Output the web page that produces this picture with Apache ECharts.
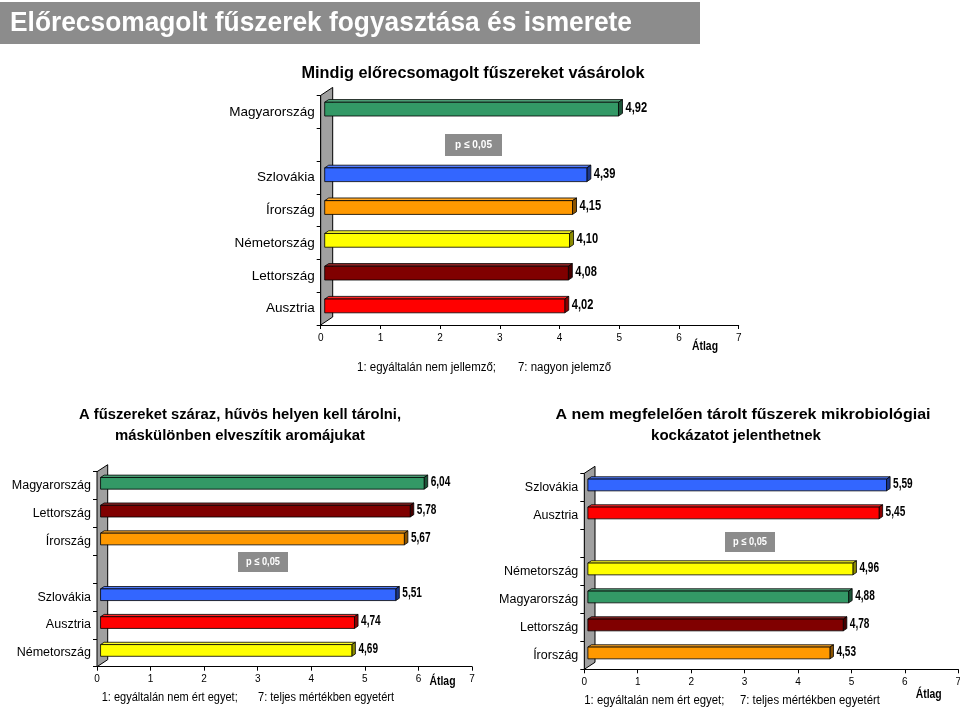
<!DOCTYPE html>
<html><head><meta charset="utf-8">
<script src="https://cdn.jsdelivr.net/npm/echarts@6/dist/echarts.min.js"></script>
<style>html,body{margin:0;padding:0;background:#fff}#c{width:960px;height:709px}</style>
</head><body><div id="c"></div>
<script>
// ---------- data ----------
const mainTitle = 'Előrecsomagolt fűszerek fogyasztása és ismerete';
const title1 = 'Mindig előrecsomagolt fűszereket vásárolok';
const cats1 = ['Magyarország', '', 'Szlovákia', 'Írország', 'Németország', 'Lettország', 'Ausztria'];
const vals1 = [4.92, null, 4.39, 4.15, 4.10, 4.08, 4.02];
const title2 = ['A fűszereket száraz, hűvös helyen kell tárolni,', 'máskülönben elveszítik aromájukat'];
const cats2 = ['Magyarország', 'Lettország', 'Írország', '', 'Szlovákia', 'Ausztria', 'Németország'];
const vals2 = [6.04, 5.78, 5.67, null, 5.51, 4.74, 4.69];
const title3 = ['A nem megfelelően tárolt fűszerek mikrobiológiai', 'kockázatot jelenthetnek'];
const cats3 = ['Szlovákia', 'Ausztria', '', 'Németország', 'Magyarország', 'Lettország', 'Írország'];
const vals3 = [5.59, 5.45, null, 4.96, 4.88, 4.78, 4.53];
const axisMin = 0, axisMax = 7, axisStep = 1;
const axisName = 'Átlag';
const pLabel = 'p ≤ 0,05';
const note1 = ['1: egyáltalán nem jellemző;', '7: nagyon jelemző'];
const note2 = ['1: egyáltalán nem ért egyet;', '7: teljes mértékben egyetért'];
const note3 = ['1: egyáltalán nem ért egyet;', '7: teljes mértékben egyetért'];

// ---------- styles ----------
const FAM = "'Liberation Sans', Arial, Helvetica, sans-serif";
const countryColor = {
  'Magyarország': '#339966', 'Szlovákia': '#3366FF', 'Írország': '#FF9900',
  'Németország': '#FFFF00', 'Lettország': '#800000', 'Ausztria': '#FF0000'
};
function shade(hex, f) {
  const n = parseInt(hex.slice(1), 16);
  let r = (n >> 16) & 255, g = (n >> 8) & 255, b = n & 255;
  if (f <= 1) { r *= f; g *= f; b *= f; }
  else { const t = f - 1; r += (255 - r) * t; g += (255 - g) * t; b += (255 - b) * t; }
  return 'rgb(' + [r, g, b].map(v => Math.round(v)).join(',') + ')';
}
const mctx = document.createElement('canvas').getContext('2d');
function fitScale(text, font, w) { mctx.font = font; return w / mctx.measureText(text).width; }
function gText(text, x, y, font, width, align, fill) {
  return {
    type: 'text', x: x, y: y, silent: true, z: 10,
    scaleX: width ? fitScale(text, font, width) : 1,
    style: { text: text, x: 0, y: 0, font: font, fill: fill || '#000',
      textAlign: align || 'left', textVerticalAlign: 'middle', align: align || 'left', verticalAlign: 'middle' }
  };
}
function fmt(v) { return v.toFixed(2).replace('.', ','); }

const panels = [
  { cats: cats1, vals: vals1, grid: { left: 320.7, top: 95.4, width: 418, height: 229.6 },
    wdx: 12, wdy: -8, catFont: 13.5, valFont: 'bold 15px ' + FAM, valScale: 0.74 },
  { cats: cats2, vals: vals2, grid: { left: 97, top: 471.7, width: 375, height: 195 },
    wdx: 10.7, wdy: -7, catFont: 12.5, valFont: 'bold 14px ' + FAM, valScale: 0.72 },
  { cats: cats3, vals: vals3, grid: { left: 584.3, top: 473.3, width: 374, height: 196 },
    wdx: 10.7, wdy: -7, catFont: 12.5, valFont: 'bold 14px ' + FAM, valScale: 0.72 }
];

const grids = [], xAxes = [], yAxes = [], series = [];
panels.forEach((p, i) => {
  grids.push(Object.assign({ containLabel: false, outerBoundsMode: 'none' }, p.grid));
  xAxes.push({
    gridIndex: i, type: 'value', min: axisMin, max: axisMax, interval: axisStep,
    axisLine: { show: true, lineStyle: { color: '#000', width: 1 } },
    axisTick: { show: true, length: 4, lineStyle: { color: '#000' } },
    axisLabel: { fontSize: 10, color: '#000', margin: 8, fontFamily: FAM },
    splitLine: { show: false }
  });
  yAxes.push({
    gridIndex: i, type: 'category', data: p.cats, inverse: true,
    axisLine: { show: true, lineStyle: { color: '#000', width: 1 } },
    axisTick: { show: true, length: 4, lineStyle: { color: '#000' } },
    axisLabel: { fontSize: p.catFont, color: '#000', margin: 6, fontFamily: FAM, interval: 0 },
    splitLine: { show: false }
  });
  // back wall
  series.push({
    type: 'custom', xAxisIndex: i, yAxisIndex: i, z: 1, silent: true,
    data: [[axisMin, 0]],
    renderItem: (params, api) => {
      const cs = params.coordSys;
      const x = cs.x, t = cs.y, b = cs.y + cs.height;
      return {
        type: 'polygon',
        shape: { points: [[x, t], [x + p.wdx, t + p.wdy], [x + p.wdx, b + p.wdy], [x, b]] },
        style: { fill: '#a0a0a0', stroke: '#000', lineWidth: 1 }
      };
    }
  });
  // 3D bars
  series.push({
    type: 'custom', xAxisIndex: i, yAxisIndex: i, z: 3, silent: true,
    encode: { x: 0, y: 1 },
    data: p.vals.map((v, k) => v == null ? null : ({ value: [v, k], itemStyle: { color: countryColor[p.cats[k]] } })).filter(d => d),
    renderItem: (params, api) => {
      const v = api.value(0), k = api.value(1);
      const a = api.coord([0, k]), e = api.coord([v, k]);
      const band = api.size([0, 1])[1];
      const h = band * 0.42;
      const dx = p.wdx / 3, dy = p.wdy / 3;
      const x0 = a[0] + dx, x1 = e[0] + dx;
      const yc = a[1] + dy, yt = yc - h / 2, yb = yc + h / 2;
      const c = api.visual('color');
      const ln = { stroke: '#000', lineWidth: 0.8 };
      return {
        type: 'group',
        children: [
          { type: 'polygon', shape: { points: [[x0, yt], [x0 + dx, yt + dy], [x1 + dx, yt + dy], [x1, yt]] },
            style: Object.assign({ fill: shade(c, 1.15) }, ln) },
          { type: 'polygon', shape: { points: [[x1, yt], [x1 + dx, yt + dy], [x1 + dx, yb + dy], [x1, yb]] },
            style: Object.assign({ fill: shade(c, 0.55) }, ln) },
          { type: 'rect', shape: { x: x0, y: yt, width: x1 - x0, height: h },
            style: Object.assign({ fill: c }, ln) },
          { type: 'text', x: x1 + dx + 3, y: yc + dy / 2, scaleX: p.valScale,
            style: { text: fmt(v), x: 0, y: 0, font: p.valFont, fill: '#000',
              textAlign: 'left', textVerticalAlign: 'middle', align: 'left', verticalAlign: 'middle' } }
        ]
      };
    }
  });
});

const TF = (w, s) => (w ? 'bold ' : '') + s + 'px ' + FAM;
const graphics = [
  { type: 'rect', shape: { x: 0, y: 2, width: 700, height: 42 }, style: { fill: '#8c8c8c' }, silent: true },
  gText(mainTitle, 10, 23, TF(true, 28), 622, 'left', '#fff'),
  gText(title1, 473, 73, TF(true, 17), 343, 'center'),
  gText(title2[0], 240, 415, TF(true, 15), 322, 'center'),
  gText(title2[1], 240, 436, TF(true, 15), 250, 'center'),
  gText(title3[0], 743, 415, TF(true, 15), 375, 'center'),
  gText(title3[1], 736, 436, TF(true, 15), 170, 'center'),
  // p-value boxes
  { type: 'rect', shape: { x: 445, y: 134, width: 57, height: 22 }, style: { fill: '#8c8c8c' }, silent: true },
  gText(pLabel, 473.5, 145, TF(true, 11), 37, 'center', '#fff'),
  { type: 'rect', shape: { x: 238, y: 552, width: 50, height: 20 }, style: { fill: '#8c8c8c' }, silent: true },
  gText(pLabel, 263, 562, TF(true, 11), 34, 'center', '#fff'),
  { type: 'rect', shape: { x: 725, y: 532, width: 50, height: 20 }, style: { fill: '#8c8c8c' }, silent: true },
  gText(pLabel, 750, 542, TF(true, 11), 34, 'center', '#fff'),
  // axis names
  gText(axisName, 705, 347, TF(true, 12), 26, 'center'),
  gText(axisName, 442.5, 682, TF(true, 12), 26, 'center'),
  gText(axisName, 928.7, 695, TF(true, 12), 26, 'center'),
  // footnotes
  gText(note1[0], 357, 368, TF(false, 12), 139, 'left'),
  gText(note1[1], 518, 368, TF(false, 12), 93, 'left'),
  gText(note2[0], 101.7, 698, TF(false, 12), 136, 'left'),
  gText(note2[1], 258, 698, TF(false, 12), 136, 'left'),
  gText(note3[0], 584.3, 701, TF(false, 12), 140, 'left'),
  gText(note3[1], 740, 701, TF(false, 12), 140, 'left')
];

const chart = echarts.init(document.getElementById('c'), null, { renderer: 'canvas' });
chart.setOption({
  animation: false,
  backgroundColor: '#fff',
  textStyle: { fontFamily: FAM },
  grid: grids, xAxis: xAxes, yAxis: yAxes, series: series,
  graphic: { elements: graphics }
});
</script>
</body></html>
